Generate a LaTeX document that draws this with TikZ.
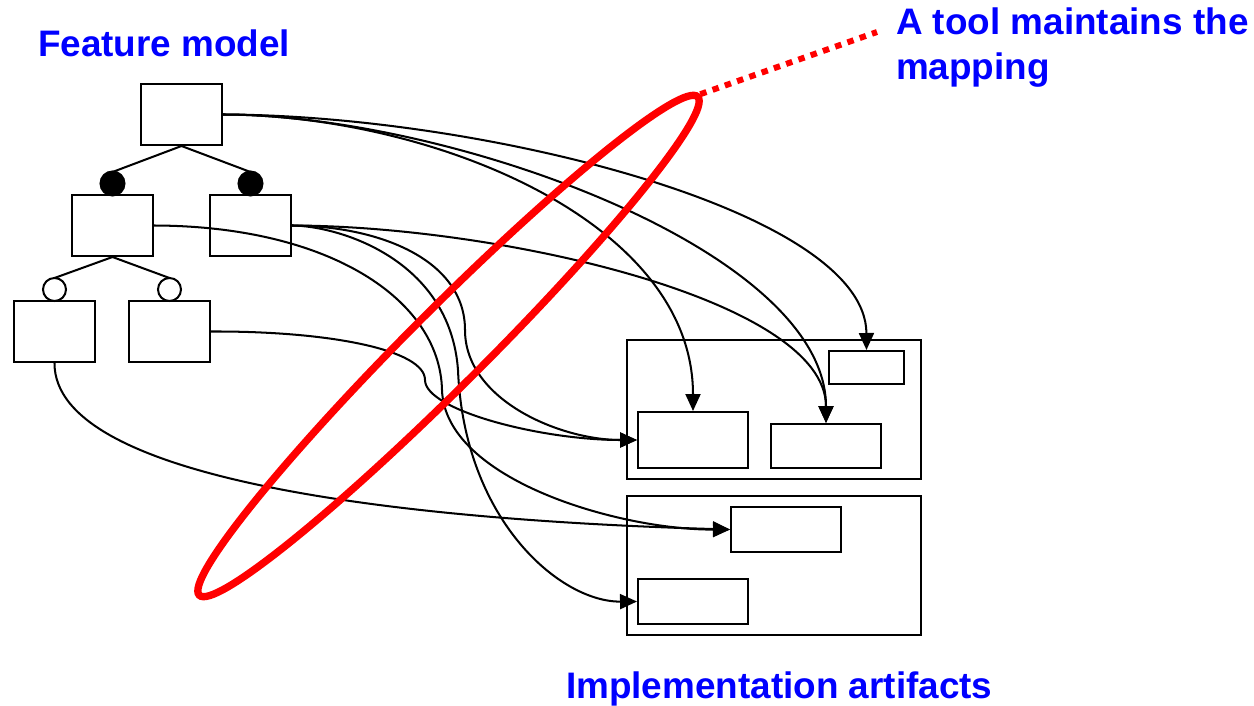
\documentclass[tikz,border=0pt]{standalone}
\usepackage{fontspec}
\usepackage{xcolor}
\usepackage{tikz}
\usetikzlibrary{shapes,arrows.meta,positioning}
\newfontfamily\slidefont{Liberation Sans}
\tikzset{
	feat/.style = {rectangle, draw, minimum width=1.62cm, minimum height=1.22cm},
	mand/.style = {circle, draw, fill, inner sep=0pt, minimum size=0.48cm},
	opt/.style = {circle, draw, fill=white, inner sep=0pt, minimum size=0.46cm},
	artifact/.style = {rectangle, draw, inner sep=0pt},
	maplink/.style = {-{Triangle[length=0.34cm,width=0.3cm]}},
	lbl/.style = {text=blue, inner sep=0pt, align=left, font={\slidefont\bfseries\fontsize{21}{25.5}\selectfont}},
	mapring/.style = {ellipse, draw=red, line width=4.2pt, inner sep=0pt}
}

\begin{document}
\begin{tikzpicture}[x=0.02cm, y=-0.02cm, line width=1.15pt]
	\useasboundingbox (0,0) rectangle (1254,706);

	% feature model
	\node[feat] (root) at (181.5,114.5) {};
	\node[feat] (fa) at (112.5,225.5) {};
	\node[feat] (fb) at (250.5,225.5) {};
	\node[feat] (fc) at (54.5,331.5) {};
	\node[feat] (fd) at (169.5,331.5) {};
	\draw (root.south) -- (112.5,172) (root.south) -- (250.5,172);
	\draw (fa.south) -- (54.5,278) (fa.south) -- (169.5,278);
	\node[mand] (ma) at (112.5,183.5) {};
	\node[mand] (mb) at (250.5,183.5) {};
	\node[opt] (oc) at (54.5,289.5) {};
	\node[opt] (od) at (169.5,289.5) {};

	% implementation artifacts
	\node[artifact, minimum width=5.88cm, minimum height=2.78cm] (pkg1) at (774,409.5) {};
	\node[artifact, minimum width=5.88cm, minimum height=2.78cm] (pkg2) at (774,565.5) {};
	\node[artifact, minimum width=1.5cm, minimum height=0.66cm] (art1) at (866.5,367.5) {};
	\node[artifact, minimum width=2.2cm, minimum height=1.12cm] (art2) at (693,440) {};
	\node[artifact, minimum width=2.2cm, minimum height=0.88cm] (art3) at (826,446) {};
	\node[artifact, minimum width=2.2cm, minimum height=0.9cm] (art4) at (786,529.5) {};
	\node[artifact, minimum width=2.2cm, minimum height=0.9cm] (art5) at (693,601.5) {};

	% mapping
	\draw[maplink] (root.east) .. controls (480,115) and (866,210) .. (art1.north);
	\draw[maplink] (root.east) .. controls (450,115) and (826,250) .. (art3.north);
	\draw[maplink] (root.east) .. controls (430,115) and (693,220) .. (art2.north);
	\draw[maplink] (fb.east) .. controls (500,226) and (826,300) .. (art3.north);
	\draw[maplink] (fb.east) .. controls (380,226) and (465,260) .. (465,330) .. controls (465,400) and (560,440) .. (art2.west);
	\draw[maplink] (fb.east) .. controls (340,226) and (450,260) .. (458,370) .. controls (464,520) and (560,602) .. (art5.west);
	\draw[maplink] (fa.east) .. controls (330,226) and (440,300) .. (442,390) .. controls (445,480) and (620,530) .. (art4.west);
	\draw[maplink] (fd.east) .. controls (330,331) and (425,350) .. (425,380) .. controls (425,410) and (540,440) .. (art2.west);
	\draw[maplink] (fc.south) .. controls (54,480) and (400,520) .. (art4.west);

	\node[mapring, rotate=45, minimum width=14.1cm, minimum height=1.52cm] (ring) at (448.5,346) {};
	\coordinate (callout) at (877,32);
	\draw[red, line width=3.4pt, dash pattern=on 0.13cm off 0.13cm] (ring.east) -- (callout);

	\node[lbl, anchor=base west] (fmlabel) at (37,57) {Feature model};
	\node[lbl, anchor=north west] (toollabel) at (895,7) {A tool maintains the\\mapping};
	\node[lbl, anchor=base west] (artlabel) at (565,698.5) {Implementation artifacts};
\end{tikzpicture}
\end{document}
